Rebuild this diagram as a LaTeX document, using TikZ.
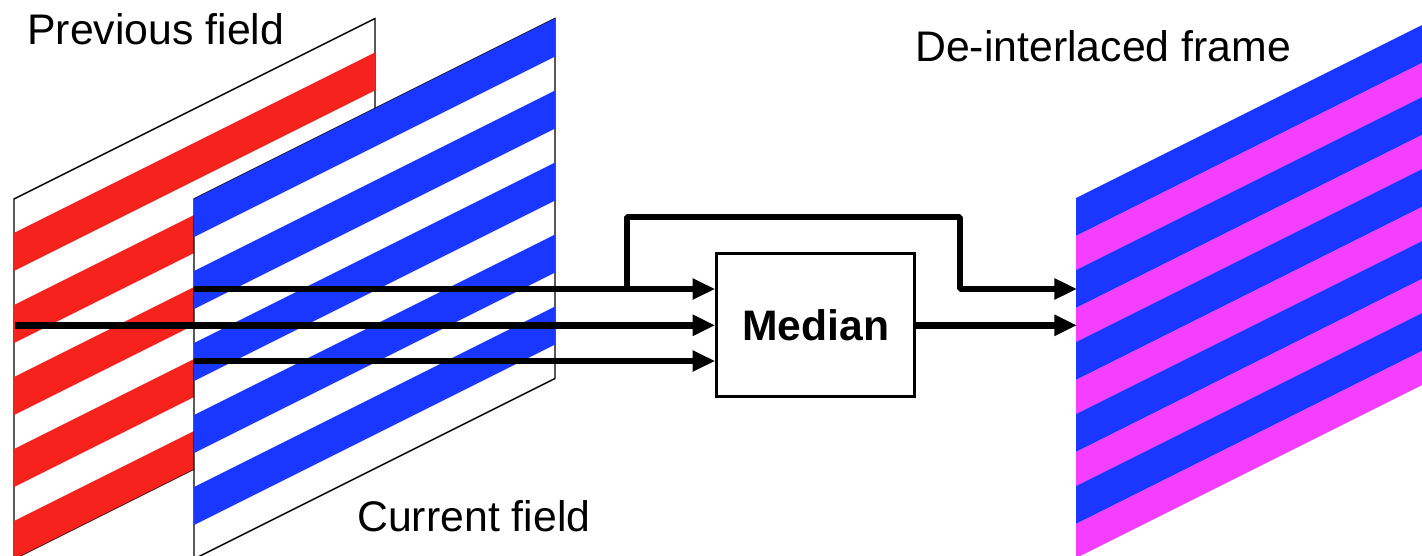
\documentclass[tikz,border=0pt]{standalone}
\usepackage{fontspec}
\setmainfont{Liberation Sans}
\usetikzlibrary{arrows.meta}
\definecolor{stripeblue}{RGB}{26,55,255}
\definecolor{stripered}{RGB}{245,34,29}
\definecolor{stripemag}{RGB}{245,62,255}
\tikzset{
  outline/.style={draw=black,line width=1.1pt},
  wire/.style={draw=black,line width=4.9pt,line join=bevel},
  feed/.style={wire,-{Triangle[length=17pt,width=15pt]}},
  label/.style={anchor=base west,inner sep=0pt,font=\fontsize{32.1pt}{36pt}\selectfont},
  medianbox/.style={draw=black,line width=2.25pt,fill=white,minimum width=148.5pt,
    minimum height=107.25pt,inner sep=0pt,font=\fontsize{32pt}{36pt}\selectfont\bfseries}
}
\begin{document}
\begin{tikzpicture}[x=0.75pt,y=-0.75pt]
\path[use as bounding box] (0,0) rectangle (1422,556);
\clip (0,0) rectangle (1422,556);

% previous field: outline, then red lines (odd rows)
\draw[outline,fill=white] (14,199) -- (375,18.5) -- (375,378.5) -- (14,559) -- cycle;
\foreach \k in {0,...,4}
  \fill[stripered] (14,{233+72*\k}) -- (375,{52.5+72*\k}) -- (375,{90.5+72*\k}) -- (14,{271+72*\k}) -- cycle;

% current field: opaque plane in front, blue lines (even rows)
\draw[outline,fill=white] (194,199) -- (555,18.5) -- (555,378.5) -- (194,559) -- cycle;
\foreach \k in {0,...,4}
  \fill[stripeblue] (194,{199+72*\k}) -- (555,{18.5+72*\k}) -- (555,{56.5+72*\k}) -- (194,{237+72*\k}) -- cycle;

% de-interlaced frame: blue and magenta rows alternating
\foreach \k in {0,...,4} {
  \fill[stripeblue] (1076,{198+72*\k}) -- (1437,{17.5+72*\k}) -- (1437,{55.5+72*\k}) -- (1076,{236+72*\k}) -- cycle;
  \fill[stripemag] (1076,{236+72*\k}) -- (1437,{55.5+72*\k}) -- (1437,{89.5+72*\k}) -- (1076,{270+72*\k}) -- cycle;
}

% median filter
\node[medianbox] (median) at (815.7,325.3) {Median};

% sample taps
\coordinate (above) at (194,289);
\coordinate (prev) at (15,325.3);
\coordinate (below) at (194,361);
\coordinate (tap) at (627,289);
\coordinate (hop) at (960,217);
\coordinate (frameA) at (1077,289);
\coordinate (frameB) at (1077,325.3);

\draw[feed] (above) -- (above -| median.west);
\draw[feed] (prev) -- (median.west);
\draw[feed] (below) -- (below -| median.west);
\draw[feed] (tap) |- (hop) |- (frameA);
\draw[feed] (median.east) -- (frameB);

% labels
\node[label] (lprev) at (27,45) {Previous field};
\node[label] (lcur) at (357,531) {Current field};
\node[label] (lframe) at (915,62) {De-interlaced frame};
\end{tikzpicture}
\end{document}
